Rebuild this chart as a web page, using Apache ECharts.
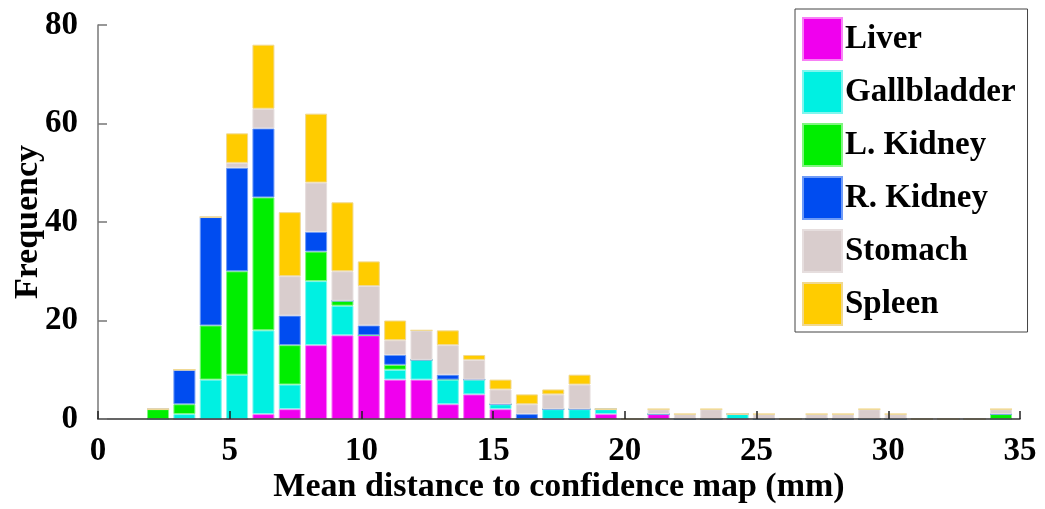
<!DOCTYPE html>
<html>
<head>
<meta charset="utf-8">
<script src="https://cdn.jsdelivr.net/npm/echarts@6/dist/echarts.min.js"></script>
<style>
html,body{margin:0;padding:0;background:#fff;}
#chart{width:1045px;height:509px;}
</style>
</head>
<body>
<div id="chart"></div>
<script>
// Bin centres (mm)
const binCenters = [2.28,3.28,4.28,5.28,6.28,7.28,8.28,9.28,10.28,11.28,12.28,13.28,14.28,15.28,16.28,17.28,18.28,19.28,20.28,21.28,22.28,23.28,24.28,25.28,26.28,27.28,28.28,29.28,30.28,31.28,32.28,33.28,34.28];
const seriesNames = ["Liver","Gallbladder","L. Kidney","R. Kidney","Stomach","Spleen"];
const liver       = [0,0,0,0,1,2,15,17,17,8,8,3,5,2,0,0,0,1,0,1,0,0,0,0,0,0,0,0,0,0,0,0,0];
const gallbladder = [0,1,8,9,17,5,13,6,0,2,4,5,3,1,0,2,2,1,0,0,0,0,1,0,0,0,0,0,0,0,0,0,0];
const lKidney     = [2,2,11,21,27,8,6,1,0,1,0,0,0,0,0,0,0,0,0,0,0,0,0,0,0,0,0,0,0,0,0,0,1];
const rKidney     = [0,7,22,21,14,6,4,0,2,2,0,1,0,0,1,0,0,0,0,0,0,0,0,0,0,0,0,0,0,0,0,0,0];
const stomach     = [0,0,0,1,4,8,10,6,8,3,6,6,4,3,2,3,5,0,0,1,1,2,0,1,0,1,1,2,1,0,0,0,1];
const spleen      = [0,0,0,6,13,13,14,14,5,4,0,3,1,2,2,1,2,0,0,0,0,0,0,0,0,0,0,0,0,0,0,0,0];
const xTicks = [0,5,10,15,20,25,30,35];
const yTicks = [0,20,40,60,80];

const colors  = ["#F000EE","#00F0E2","#00EE00","#004CF0","#D9CDCD","#FFCC00"];
const borders = ["#F880F6","#80F6EE","#80F580","#6F9BF6","#E6DEDE","#F0D890"];
const values  = [liver,gallbladder,lKidney,rKidney,stomach,spleen];

const font = '"Liberation Serif","Times New Roman",serif';

// value first so that the stacked dimension is the frequency
const series = seriesNames.map((name,i)=>({
  name,
  type:'bar',
  stack:'total',
  barWidth:22,
  encode:{x:1,y:0},
  itemStyle:{color:colors[i],borderColor:borders[i],borderWidth:1},
  data: binCenters.map((x,j)=>[values[i][j], x])
}));

const chart = echarts.init(document.getElementById('chart'),null,{renderer:'canvas'});
chart.setOption({
  animation:false,
  backgroundColor:'#fff',
  grid:{left:98,right:25,top:25,bottom:90,containLabel:false,outerBoundsMode:'none'},
  legend:{
    orient:'vertical',
    left:795, top:9,
    padding:[8,12,6,7],
    itemWidth:39, itemHeight:42, itemGap:9,
    borderColor:'#444', borderWidth:1,
    backgroundColor:'#fff',
    icon:'rect',
    data:seriesNames,
    textStyle:{fontFamily:font,fontWeight:'bold',fontSize:33,lineHeight:42,color:'#000',padding:[0,0,0,-2]}
  },
  xAxis:{
    type:'value', min:xTicks[0], max:xTicks[xTicks.length-1], interval:5,
    z:10,
    name:'Mean distance to confidence map (mm)',
    nameLocation:'middle', nameGap:51, nameMoveOverlap:false,
    nameTextStyle:{fontFamily:font,fontWeight:'bold',fontSize:34,color:'#000'},
    axisLine:{lineStyle:{color:'#333',width:1.5}},
    axisTick:{inside:true,length:8,lineStyle:{color:'#222',width:1.5}},
    axisLabel:{fontFamily:font,fontWeight:'bold',fontSize:33,color:'#000',margin:16},
    splitLine:{show:false}
  },
  yAxis:{
    type:'value', min:yTicks[0], max:yTicks[yTicks.length-1], interval:20,
    z:10,
    name:'Frequency',
    nameLocation:'middle', nameGap:53, nameMoveOverlap:false,
    nameTextStyle:{fontFamily:font,fontWeight:'bold',fontSize:34,color:'#000'},
    axisLine:{show:true,lineStyle:{color:'#777',width:1.5}},
    axisTick:{show:true,inside:true,length:9,lineStyle:{color:'#777',width:1.5}},
    axisLabel:{fontFamily:font,fontWeight:'bold',fontSize:33,color:'#000',margin:20},
    splitLine:{show:false}
  },
  series
});
</script>
</body>
</html>
